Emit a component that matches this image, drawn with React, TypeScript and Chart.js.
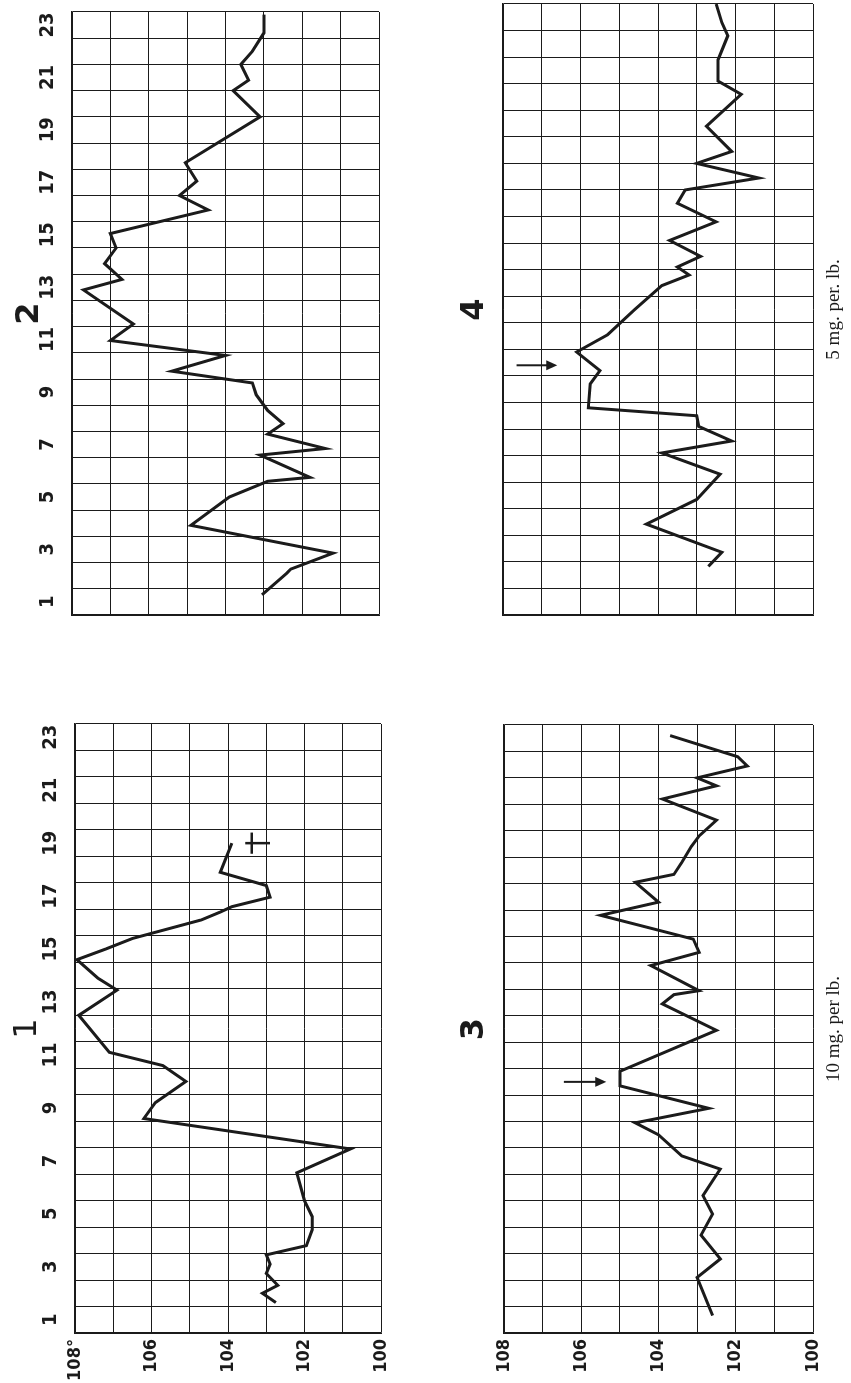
import React, { useEffect, useRef } from 'react';
import { Chart, registerables } from 'chart.js';

Chart.register(...registerables);

// ---------- data ----------
const dayLabels = [1, 3, 5, 7, 9, 11, 13, 15, 17, 19, 21, 23];
const tempLabelsTop: Record<number, string> = { 108: '108°', 106: '106', 104: '104', 102: '102', 100: '100' };
const tempLabelsBottom: Record<number, string> = { 108: '108', 106: '106', 104: '104', 102: '102', 100: '100' };

const days1 = [1.65, 2.0, 2.3, 2.75, 3.1, 3.45, 3.8, 4.4, 4.9, 5.5, 6.55, 7.45, 8.6, 9.2, 10.0, 10.6, 11.1, 12.5, 13.45, 13.9, 14.6, 15.0, 15.4, 16.1, 16.4, 16.6, 16.96, 17.4, 17.9, 19.0];
const temps1 = [102.75, 103.1, 102.7, 103.0, 102.9, 103.0, 101.95, 101.8, 101.8, 102.0, 102.2, 100.8, 106.2, 105.9, 105.1, 105.7, 107.1, 107.9, 106.9, 107.4, 107.95, 107.2, 106.5, 104.7, 104.2, 103.9, 102.9, 103.0, 104.2, 103.9];

const days2 = [1.27, 2.1, 2.25, 2.86, 3.92, 5.0, 5.6, 5.75, 6.6, 6.85, 7.4, 7.8, 8.3, 8.9, 9.35, 9.8, 10.4, 10.97, 11.6, 12.9, 13.3, 13.9, 14.5, 15.05, 15.95, 16.5, 17.05, 17.75, 19.5, 20.5, 20.9, 21.5, 22.0, 22.7, 23.4];
const temps2 = [103.05, 102.4, 102.3, 101.2, 104.9, 103.9, 102.9, 101.8, 103.1, 101.4, 102.9, 102.5, 102.9, 103.2, 103.3, 105.4, 104.0, 107.0, 106.4, 107.7, 106.7, 107.15, 106.85, 107.0, 104.45, 105.2, 104.75, 105.05, 103.1, 103.8, 103.4, 103.6, 103.3, 103.0, 103.0];

const days3 = [1.16, 2.6, 3.3, 4.2, 5.0, 5.7, 6.7, 7.2, 8.0, 8.45, 9.0, 9.85, 10.4, 11.95, 12.95, 13.3, 13.45, 14.4, 14.9, 15.4, 16.3, 16.8, 17.55, 17.85, 18.3, 18.9, 19.3, 19.9, 20.7, 21.2, 21.5, 21.95, 22.3, 23.1];
const temps3 = [102.6, 103.0, 102.4, 102.9, 102.6, 102.85, 102.4, 103.4, 104.0, 104.6, 102.7, 105.0, 105.0, 102.5, 103.9, 103.6, 102.95, 104.2, 102.95, 103.1, 105.5, 104.0, 104.6, 103.6, 103.4, 103.15, 102.95, 102.5, 103.9, 102.5, 103.0, 101.7, 101.95, 103.7];

const days4 = [2.33, 2.86, 3.92, 4.85, 5.8, 6.6, 7.05, 7.6, 8.0, 8.3, 9.2, 9.7, 10.4, 11.05, 12.0, 12.9, 13.3, 13.6, 14.0, 14.6, 15.3, 16.0, 16.5, 16.95, 17.5, 17.95, 18.9, 20.1, 20.6, 21.4, 22.3, 22.8, 23.5];
const temps4 = [102.7, 102.35, 104.3, 103.0, 102.4, 103.9, 102.1, 102.95, 103.0, 105.8, 105.75, 105.5, 106.1, 105.3, 104.6, 103.9, 103.2, 103.5, 102.9, 103.7, 102.5, 103.5, 103.3, 101.4, 103.0, 102.1, 102.75, 101.85, 102.45, 102.45, 102.2, 102.35, 102.5];

// marks: arrow (day, from temp, to temp) and the death dagger (day, top temp, bar temp, bottom temp)
const arrow3 = [10.0, 106.45, 105.35];
const arrow4 = [9.9, 107.65, 106.6];
const dagger1 = [19.0, 103.55, 103.38, 102.9];

const titles = ['1', '2', '3', '4'];
const titleWeights = ['normal', 'bold', 'bold', 'bold'];
const captions = ['', '', '10 mg. per lb.', '5 mg. per. lb.'];

// ---------- layout (unrotated page, 1383 x 851, rotated -90deg afterwards) ----------
const NARROW = '"Liberation Sans Narrow", "DejaVu Sans Condensed", "Liberation Sans", sans-serif';
const INK = '#1b1b1b';

type PanelCfg = {
  idx: number;
  left: number; top: number; width: number; height: number;
  area: { left: number; top: number; right: number; bottom: number };
  showDays: boolean; showTemps: boolean;
  tempLabels: Record<number, string>;
  days: number[]; temps: number[];
  titleY: number; captionY: number;
  arrow?: number[]; dagger?: number[];
};

const PANELS: PanelCfg[] = [
  { idx: 0, left: 0, top: 0, width: 700, height: 425, area: { left: 50, top: 75, right: 659, bottom: 381 }, showDays: true, showTemps: true, tempLabels: tempLabelsTop, days: days1, temps: temps1, titleY: 28, captionY: 0, dagger: dagger1 },
  { idx: 1, left: 700, top: 0, width: 683, height: 425, area: { left: 68, top: 72, right: 677, bottom: 379 }, showDays: true, showTemps: false, tempLabels: tempLabelsTop, days: days2, temps: temps2, titleY: 30, captionY: 0 },
  { idx: 2, left: 0, top: 425, width: 700, height: 426, area: { left: 50, top: 79, right: 658, bottom: 388 }, showDays: false, showTemps: true, tempLabels: tempLabelsBottom, days: days3, temps: temps3, titleY: 50, captionY: 414, arrow: arrow3 },
  { idx: 3, left: 700, top: 425, width: 683, height: 426, area: { left: 68, top: 78, right: 679, bottom: 388 }, showDays: false, showTemps: false, tempLabels: tempLabelsBottom, days: days4, temps: temps4, titleY: 50, captionY: 414, arrow: arrow4 },
];

const decor = {
  id: 'decor',
  afterDraw(chart: any, _args: any, opts: any) {
    const { ctx, chartArea, scales } = chart;
    const x = scales.x;
    const y = scales.y;
    const cx = (chartArea.left + chartArea.right) / 2;
    ctx.save();
    ctx.fillStyle = INK;
    ctx.strokeStyle = INK;
    if (opts.title) {
      ctx.font = `${opts.titleWeight} 32px "DejaVu Sans", sans-serif`;
      ctx.textAlign = 'center';
      ctx.textBaseline = 'middle';
      ctx.fillText(opts.title, cx, opts.titleY);
    }
    if (opts.caption) {
      ctx.font = '19px "Liberation Serif", "DejaVu Serif", serif';
      ctx.textAlign = 'center';
      ctx.textBaseline = 'alphabetic';
      ctx.fillText(opts.caption, cx, opts.captionY);
    }
    if (opts.arrow) {
      const [d, t0, t1] = opts.arrow;
      const px = x.getPixelForValue(d);
      const y0 = y.getPixelForValue(t0);
      const y1 = y.getPixelForValue(t1);
      ctx.lineWidth = 2;
      ctx.beginPath();
      ctx.moveTo(px, y0);
      ctx.lineTo(px, y1 - 6);
      ctx.stroke();
      ctx.beginPath();
      ctx.moveTo(px, y1);
      ctx.lineTo(px - 5, y1 - 11);
      ctx.lineTo(px + 5, y1 - 11);
      ctx.closePath();
      ctx.fill();
    }
    if (opts.dagger) {
      const [d, tTop, tBar, tBot] = opts.dagger;
      const px = x.getPixelForValue(d);
      const yTop = y.getPixelForValue(tTop);
      const yBar = y.getPixelForValue(tBar);
      const yBot = y.getPixelForValue(tBot);
      const half = x.getPixelForValue(d + 0.4) - px;
      ctx.lineWidth = 2.5;
      ctx.beginPath();
      ctx.moveTo(px, yTop);
      ctx.lineTo(px, yBot);
      ctx.moveTo(px - half, yBar);
      ctx.lineTo(px + half, yBar);
      ctx.stroke();
    }
    ctx.restore();
  },
};

function Panel({ cfg }: { cfg: PanelCfg }) {
  const ref = useRef<HTMLCanvasElement>(null);
  useEffect(() => {
    const a = cfg.area;
    const cell = (a.right - a.left) / 23;
    const points = cfg.days.map((d, i) => ({ x: d, y: cfg.temps[i] }));
    const chart = new Chart(ref.current as HTMLCanvasElement, {
      type: 'line',
      data: {
        datasets: [
          {
            data: points,
            borderColor: INK,
            borderWidth: 3,
            pointRadius: 0,
            tension: 0,
            fill: false,
          },
        ],
      },
      options: {
        animation: false,
        responsive: false,
        devicePixelRatio: 1,
        events: [],
        layout: { padding: { left: 0, top: 0, right: cfg.width - a.right, bottom: cfg.height - a.bottom } },
        plugins: {
          legend: { display: false },
          tooltip: { enabled: false },
          title: { display: false },
          decor: {
            title: titles[cfg.idx],
            titleWeight: titleWeights[cfg.idx],
            caption: captions[cfg.idx],
            titleY: cfg.titleY,
            captionY: cfg.captionY,
            arrow: cfg.arrow,
            dagger: cfg.dagger,
          },
        } as any,
        scales: {
          x: {
            type: 'linear',
            position: 'top',
            min: 0.5,
            max: 23.5,
            afterBuildTicks: (s: any) => {
              s.ticks = Array.from({ length: 24 }, (_, i) => ({ value: i + 0.5 }));
            },
            afterFit: (s: any) => {
              s.height = a.top;
            },
            grid: { color: INK, lineWidth: 1, drawTicks: false },
            border: { display: true, color: INK, width: 1.5 },
            ticks: {
              display: cfg.showDays,
              autoSkip: false,
              maxRotation: 0,
              minRotation: 0,
              padding: 12,
              labelOffset: cell / 2,
              color: INK,
              font: { family: NARROW, size: 20, weight: 'bold' },
              callback: (v: any) => {
                const d = Number(v) + 0.5;
                return dayLabels.includes(d) ? String(d) : '';
              },
            },
          },
          y: {
            type: 'linear',
            min: 100,
            max: 108,
            afterFit: (s: any) => {
              s.width = a.left;
            },
            grid: { color: INK, lineWidth: 1, drawTicks: false },
            border: { display: true, color: INK, width: 1.5 },
            ticks: {
              display: cfg.showTemps,
              stepSize: 1,
              autoSkip: false,
              padding: 6,
              color: INK,
              font: { family: NARROW, size: 18, weight: 'bold' },
              callback: (v: any) => cfg.tempLabels[Number(v)] ?? '',
            },
          },
        },
      },
      plugins: [decor],
    });
    return () => chart.destroy();
  }, []);
  return (
    <canvas
      ref={ref}
      width={cfg.width}
      height={cfg.height}
      style={{ position: 'absolute', left: cfg.left, top: cfg.top, width: cfg.width, height: cfg.height }}
    />
  );
}

export default function App() {
  return (
    <div
      style={{
        position: 'fixed',
        left: 0,
        top: 0,
        width: 1383,
        height: 851,
        background: '#ffffff',
        transformOrigin: '0 0',
        transform: 'translate(0px, 1383px) rotate(-90deg)',
      }}
    >
      {PANELS.map((p) => (
        <Panel key={p.idx} cfg={p} />
      ))}
    </div>
  );
}
